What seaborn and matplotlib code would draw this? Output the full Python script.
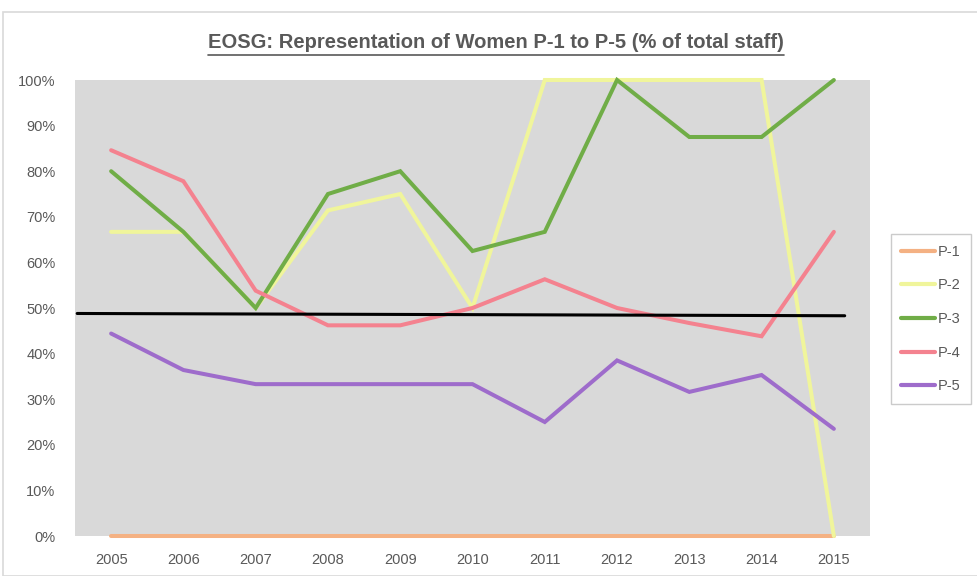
import pandas as pd
import matplotlib.pyplot as plt
import matplotlib.patches as mpatches
import seaborn as sns
from matplotlib.ticker import PercentFormatter

years = [2005, 2006, 2007, 2008, 2009, 2010, 2011, 2012, 2013, 2014, 2015]
p1 = [0, 0, 0, 0, 0, 0, 0, 0, 0, 0, 0]
p2 = [66.7, 66.7, 50.0, 71.4, 75.0, 50.0, 100, 100, 100, 100, 0]
p3 = [80.0, 66.7, 50.0, 75.0, 80.0, 62.5, 66.7, 100, 87.5, 87.5, 100]
p4 = [84.6, 77.8, 53.8, 46.2, 46.2, 50.0, 56.3, 50.0, 46.7, 43.8, 66.7]
p5 = [44.4, 36.4, 33.3, 33.3, 33.3, 33.3, 25.0, 38.5, 31.6, 35.3, 23.5]
grades = ["P-1", "P-2", "P-3", "P-4", "P-5"]
# black reference line (start, end) in %
ref_line = [48.8, 48.3]

colors = {"P-1": "#F4B183", "P-2": "#F0F59B", "P-3": "#70AD47",
          "P-4": "#F4828F", "P-5": "#9E6CCB"}

df = pd.DataFrame({"Year": years * 5,
                   "Grade": [g for g in grades for _ in years],
                   "Pct": p1 + p2 + p3 + p4 + p5})

sns.set_style("white")
plt.rcParams["font.family"] = ["Liberation Sans", "DejaVu Sans"]

fig = plt.figure(figsize=(9.77, 5.76), dpi=100)
fig.patches.append(mpatches.Rectangle((3 / 977, 0), 1.0, 1 - 12 / 576, transform=fig.transFigure,
                                      facecolor="white", edgecolor="#D9D9D9", lw=1.2, zorder=-1))
ax = fig.add_axes([75 / 977, 40 / 576, 795 / 977, 456 / 576])
ax.set_facecolor("#D9D9D9")

sns.lineplot(data=df, x="Year", y="Pct", hue="Grade", palette=colors, lw=2.9,
             ax=ax, solid_capstyle="round", solid_joinstyle="miter")
for ln in ax.get_lines():
    ln.set_clip_on(False)
ax.plot([2004.53, 2015.15], ref_line, color="black", lw=2.2, zorder=5)

ax.set_xlim(2004.5, 2015.5)
ax.set_ylim(0, 100)
ax.set_xticks(years)
ax.set_yticks(range(0, 101, 10))
ax.yaxis.set_major_formatter(PercentFormatter(decimals=0))
ax.tick_params(length=0, labelsize=10.5, colors="#595959")
ax.tick_params(axis="x", pad=12)
ax.tick_params(axis="y", pad=14)
ax.set_xlabel("")
ax.set_ylabel("")
for s in ax.spines.values():
    s.set_visible(False)

leg = ax.legend(loc="center", bbox_to_anchor=(931 / 977, 1 - 319 / 576),
                bbox_transform=fig.transFigure, frameon=True, fancybox=False,
                fontsize=10.5, labelcolor="#595959", handlelength=2.3,
                handletextpad=0.2, labelspacing=1.35, borderpad=0.7, borderaxespad=0)
leg.get_frame().set_edgecolor("#BFBFBF")
leg.get_frame().set_linewidth(1.0)
for h in leg.get_lines():
    h.set_linewidth(3)

title = fig.text(496 / 977, 1 - 43 / 576, "EOSG: Representation of Women P-1 to P-5 (% of total staff)",
                 ha="center", va="center", fontsize=14.5, fontweight="bold", color="#595959")
fig.canvas.draw()
bb = title.get_window_extent().transformed(fig.transFigure.inverted())
fig.lines.append(plt.Line2D([bb.x0, bb.x1], [bb.y0 - 0.004, bb.y0 - 0.004], transform=fig.transFigure,
                            color="#595959", lw=1.2))

fig.savefig("out.png", dpi=100)
